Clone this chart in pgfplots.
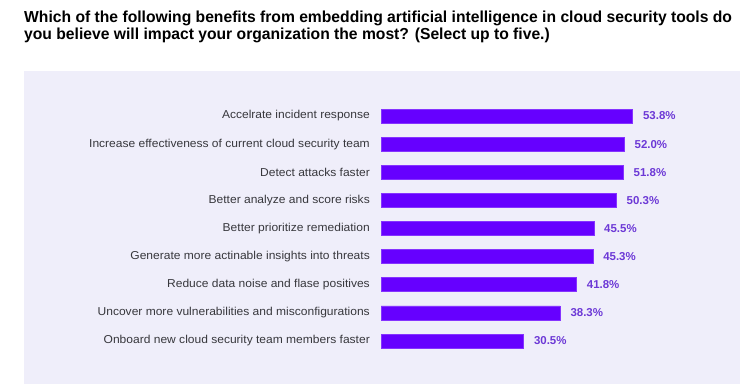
\documentclass[border=0pt]{standalone}
\usepackage{pgfplots}
\pgfplotsset{compat=1.18}
\usepackage{fontspec}
\setmainfont{Liberation Sans}
\newfontfamily\titlefont[FakeStretch=0.983]{Liberation Sans}
\newfontfamily\labfont[FakeStretch=1.05]{Liberation Sans}
\definecolor{panel}{RGB}{239,238,250}
\definecolor{barc}{RGB}{102,0,255}
\definecolor{valc}{RGB}{108,56,214}
\definecolor{labc}{RGB}{55,55,60}
\pgfplotstableread{
idx val
0 30.5
1 38.3
2 41.8
3 45.3
4 45.5
5 50.3
6 51.8
7 52.0
8 53.8
}\datatab
\begin{document}
\begin{tikzpicture}[x=1bp,y=1bp]
\path[use as bounding box] (0,0) rectangle (755,391);
\fill[panel] (24,7) rectangle (740,320);
\node[anchor=base west,inner sep=0pt,font=\titlefont\bfseries\fontsize{16}{18}\selectfont,text=black] at (24,369) {Which of the following benefits from embedding artificial intelligence in cloud security tools do};
\node[anchor=base west,inner sep=0pt,font=\titlefont\bfseries\fontsize{16}{18}\selectfont,text=black] at (24,352) {you believe will impact your organization the most? (Select up to five.)};
\begin{axis}[
  at={(381bp,35.94bp)}, anchor=south west,
  scale only axis, width=280.8bp, height=253.1bp,
  xmin=0, xmax=60, ymin=-0.5, ymax=8.5,
  xbar, bar width=14bp,
  axis line style={draw=none},
  major tick length=0pt,
  xtick=\empty,
  ytick={0,...,8},
  yticklabels={Onboard new cloud security team members faster,
    Uncover more vulnerabilities and misconfigurations,
    Reduce data noise and flase positives,
    Generate more actinable insights into threats,
    Better prioritize remediation,
    Better analyze and score risks,
    Detect attacks faster,
    Increase effectiveness of current cloud security team,
    Accelrate incident response},
  yticklabel style={font=\labfont\fontsize{11.5}{13}\selectfont, text=labc, inner sep=0pt, xshift=-11bp},
  /pgf/number format/assume math mode=true,
  point meta=x,
  nodes near coords={\pgfmathprintnumber[fixed,fixed zerofill,precision=1]{\pgfplotspointmeta}\%},
  nodes near coords style={font=\bfseries\fontsize{11.5}{13}\selectfont, text=valc, anchor=west, inner sep=0pt, xshift=10bp},
  clip=false,
]
\addplot[fill=barc, draw=barc!80!white, line width=0.6bp] table[x=val,y=idx] {\datatab};
\end{axis}
\end{tikzpicture}
\end{document}
